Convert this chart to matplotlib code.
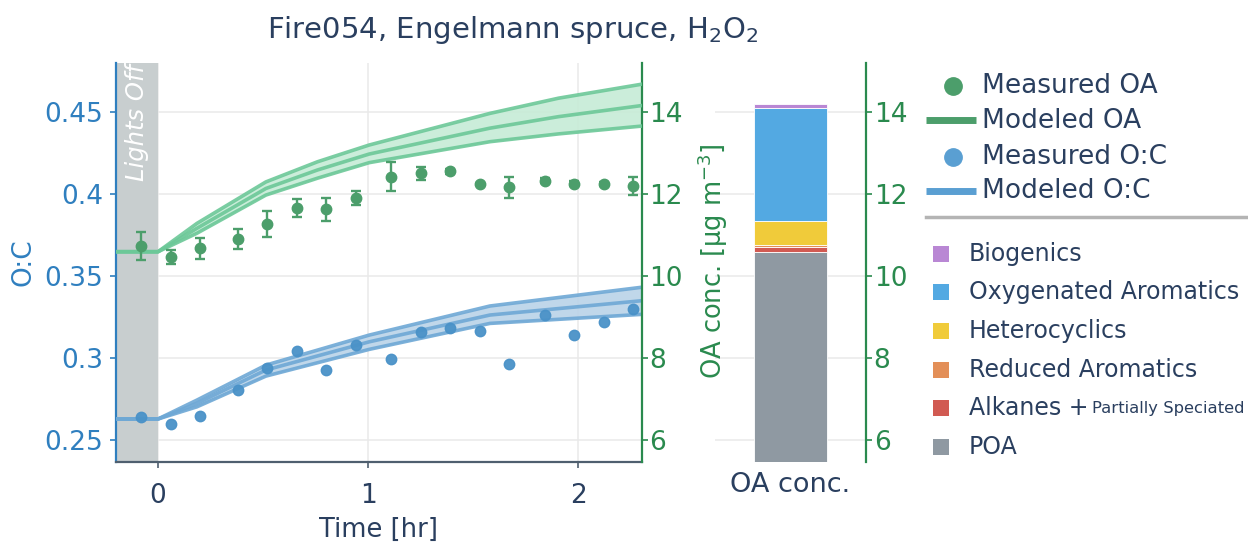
import numpy as np
import matplotlib.pyplot as plt
from matplotlib.transforms import blended_transform_factory

plt.rcParams['font.family'] = ['DejaVu Sans']

# measured points (time in hr)
t_meas = [-0.08, 0.06, 0.20, 0.38, 0.52, 0.66, 0.80, 0.94, 1.11, 1.25,
          1.39, 1.53, 1.67, 1.84, 1.98, 2.12, 2.26]
oa_meas = [10.74, 10.47, 10.67, 10.90, 11.26, 11.66, 11.62, 11.90, 12.42, 12.50,
           12.55, 12.24, 12.16, 12.32, 12.25, 12.24, 12.19]
oa_err = [0.34, 0.17, 0.26, 0.25, 0.31, 0.22, 0.28, 0.16, 0.35, 0.16,
          0.06, 0.03, 0.26, 0.06, 0.06, 0.06, 0.23]
oc_meas = [0.2641, 0.2596, 0.2647, 0.2805, 0.2939, 0.3041, 0.2925, 0.3081, 0.2994, 0.3158,
           0.3183, 0.3164, 0.2962, 0.3262, 0.3142, 0.3217, 0.3297]

# modeled OA (mid + band)
t_oa_model = [-0.2, 0.0, 0.185, 0.513, 0.758, 1.005, 1.579, 1.905, 2.3]
oa_mid = [10.59, 10.59, 11.16, 12.13, 12.58, 12.97, 13.60, 13.88, 14.15]
oa_hi = [10.59, 10.59, 11.28, 12.29, 12.78, 13.19, 13.96, 14.33, 14.67]
oa_lo = [10.59, 10.59, 11.04, 11.97, 12.38, 12.76, 13.27, 13.46, 13.65]

# modeled O:C (mid + band)
t_oc_model = [-0.2, 0.0, 0.185, 0.513, 1.005, 1.579, 2.3]
oc_mid = [0.2629, 0.2629, 0.2724, 0.2927, 0.3099, 0.3262, 0.3349]
oc_hi = [0.2629, 0.2629, 0.2744, 0.2957, 0.3140, 0.3317, 0.3431]
oc_lo = [0.2629, 0.2629, 0.2703, 0.2890, 0.3053, 0.3211, 0.3266]

# final OA composition (stack, bottom to top)
comp_names = ['POA', 'Alkanes', 'Reduced Aromatics', 'Heterocyclics',
              'Oxygenated Aromatics', 'Biogenics']
comp_vals = [10.58, 0.12, 0.05, 0.59, 2.74, 0.10]
comp_colors = ['#8f99a2', '#d15a52', '#e38f58', '#f0cb3a', '#53a9e2', '#b987d4']

navy = '#2a3f5f'
blue = '#2f7fbf'
green = '#2a8a4e'
g_pt, g_line, g_fill = '#4c9e6b', '#6cc898', '#c6ebd6'
b_pt, b_line, b_fill = '#4a92c8', '#6ea8d5', '#bad3e8'

W, H = 1248, 550
fig = plt.figure(figsize=(12.48, 5.5), dpi=100)

def px(l, t, r, b):
    return [l / W, 1 - b / H, (r - l) / W, (b - t) / H]

ax = fig.add_axes(px(116, 63.3, 641.5, 462))
ax2 = ax.twinx()
bax = fig.add_axes(px(715, 63.3, 866, 462))

oc_lim = (0.2367, 0.4795)
oa_lim = (5.467, 15.18)

# lights off
ax.axvspan(-0.2, 0, color='#c8cecf', zorder=1, lw=0)
ax.text(-0.1, 0.998, 'Lights Off', transform=blended_transform_factory(ax.transData, ax.transAxes),
        rotation=90, ha='center', va='top', color='white', fontsize=17.5, style='italic', zorder=3)

# O:C
ax.fill_between(t_oc_model, oc_lo, oc_hi, color=b_fill, alpha=0.9, lw=0, zorder=2)
for yy in (oc_lo, oc_mid, oc_hi):
    ax.plot(t_oc_model, yy, color=b_line, lw=2.6, alpha=0.9, zorder=3)
ax.plot(t_meas, oc_meas, 'o', color=b_pt, ms=7.5, alpha=0.95, zorder=4)

# OA
ax2.fill_between(t_oa_model, oa_lo, oa_hi, color=g_fill, alpha=0.9, lw=0, zorder=2)
for yy in (oa_lo, oa_mid, oa_hi):
    ax2.plot(t_oa_model, yy, color=g_line, lw=2.6, alpha=0.9, zorder=3)
ax2.errorbar(t_meas, oa_meas, yerr=oa_err, fmt='o', color=g_pt, ms=7.5,
             elinewidth=1.7, capsize=3.8, capthick=1.7, zorder=4)

ax.set_xlim(-0.2, 2.3)
ax.set_ylim(*oc_lim)
ax2.set_ylim(*oa_lim)
ax.set_xticks([0, 1, 2])
ax.set_yticks([0.25, 0.3, 0.35, 0.4, 0.45])
ax.set_yticklabels(['0.25', '0.3', '0.35', '0.4', '0.45'])
ax2.set_yticks([6, 8, 10, 12, 14])
ax.set_axisbelow(True)
ax.grid(True, color='#e9e9e9', lw=1.1)

for s in ['top', 'right']:
    ax.spines[s].set_visible(False)
for s in ['top', 'left', 'bottom']:
    ax2.spines[s].set_visible(False)
ax.spines['left'].set_color(blue)
ax.spines['left'].set_linewidth(1.6)
ax.spines['bottom'].set_color('#4f5f6f')
ax.spines['bottom'].set_linewidth(1.6)
ax2.spines['right'].set_color(green)
ax2.spines['right'].set_linewidth(1.6)

ax.tick_params(axis='y', colors=blue, labelsize=19, length=4, width=1.2, pad=5)
ax.tick_params(axis='x', colors='#4f5f6f', labelcolor=navy, labelsize=19, length=4, width=1.2, pad=11)
ax2.tick_params(axis='y', colors=green, labelsize=19, length=4, width=1.2, pad=1.5)

ax.set_ylabel('O:C', color=blue, fontsize=19, labelpad=6)
ax.set_xlabel('Time [hr]', color=navy, fontsize=18.5, labelpad=6)

# composition bar
bottom = 0
for v, c in zip(comp_vals, comp_colors):
    bax.bar([0], [v], bottom=bottom, width=0.49, color=c, edgecolor='white', lw=0.6, zorder=2)
    bottom += v
bax.set_xlim(-0.5, 0.5)
bax.set_ylim(*oa_lim)
bax.set_yticks([6, 8, 10, 12, 14])
bax.yaxis.tick_right()
bax.grid(True, axis='y', color='#e9e9e9', lw=1.1)
bax.set_axisbelow(True)
for s in ['top', 'left', 'bottom']:
    bax.spines[s].set_visible(False)
bax.spines['right'].set_color(green)
bax.spines['right'].set_linewidth(1.6)
bax.tick_params(axis='y', colors=green, labelsize=19, length=4, width=1.2, pad=1.5)
bax.set_xticks([0])
bax.set_xticklabels(['OA conc.'])
bax.tick_params(axis='x', length=0, labelcolor=navy, labelsize=19.5, pad=7)
fig.text(713 / W, 1 - 261 / H, 'OA conc. [µg m$^{-3}$]', rotation=90, ha='center', va='center',
         color=green, fontsize=18.5)

fig.text(513 / W, 1 - 30 / H, 'Fire054, Engelmann spruce, H$_2$O$_2$', ha='center', va='center',
         color=navy, fontsize=21)

# legends (drawn in pixel space)
lax = fig.add_axes([0, 0, 1, 1])
lax.set_xlim(0, W)
lax.set_ylim(H, 0)
lax.axis('off')
lax.patch.set_alpha(0)

lax.plot([953], [86], 'o', color=g_pt, ms=12.5)
lax.text(982, 86, 'Measured OA', va='center', fontsize=19, color=navy)
lax.plot([926, 976], [120, 120], color=g_pt, lw=5, solid_capstyle='butt')
lax.text(982, 121, 'Modeled OA', va='center', fontsize=19, color=navy)
lax.plot([953], [157], 'o', color='#5a9fd2', ms=12.5)
lax.text(982, 157, 'Measured O:C', va='center', fontsize=19, color=navy)
lax.plot([926, 976], [191, 191], color='#5a9fd2', lw=5, solid_capstyle='butt')
lax.text(982, 191, 'Modeled O:C', va='center', fontsize=19, color=navy)
lax.plot([926, 1248], [216.5, 216.5], color='#b4b4b4', lw=2.5)

leg_y = [254, 292, 331, 370, 408, 447]
for i, (name, c) in enumerate(zip(comp_names[::-1], comp_colors[::-1])):
    y = leg_y[i]
    lax.plot([941], [y], 's', color=c, ms=11.5, mew=0)
    if name == 'Alkanes':
        lax.text(969, y, 'Alkanes +', va='center', fontsize=17, color=navy)
        lax.text(1092, y + 1, 'Partially Speciated', va='center', fontsize=11.8, color=navy)
    else:
        lax.text(969, y, name, va='center', fontsize=17, color=navy)

fig.savefig('out.png', dpi=100)
